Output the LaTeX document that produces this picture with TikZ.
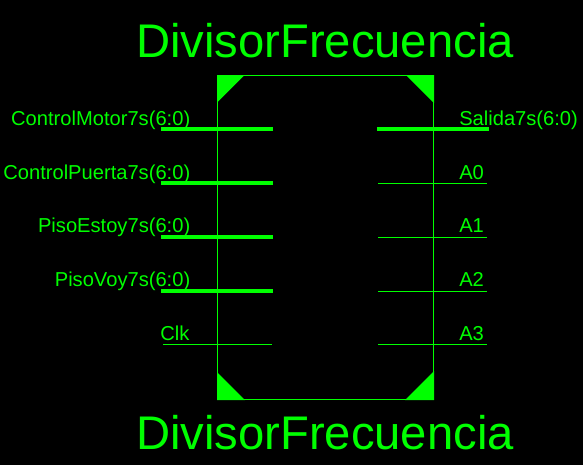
\documentclass[tikz,border=0pt]{standalone}
\usepackage{fontspec}
\setmainfont{Liberation Sans}
\definecolor{neon}{RGB}{0,255,0}
\tikzset{x=0.75pt,y=-0.75pt,
 lbl/.style={text=neon,font=\fontsize{15.1}{18}\selectfont,inner sep=0pt},
 ttl/.style={text=neon,font=\fontsize{35.4}{40}\selectfont,inner sep=0pt},
 thin wire/.style={draw=neon,line width=0.75pt},
 bus/.style={draw=neon,line width=3pt},
 corner/.style={fill=neon,draw=none}}
\begin{document}
\begin{tikzpicture}
\fill[black] (0,0) rectangle (583,465);
\useasboundingbox (0,0) rectangle (583,465);
\draw[thin wire] (217.5,75.5) rectangle (433.5,399.5);
\fill[corner] (217,75) -- (244.5,75) -- (217,102.5) -- cycle;
\fill[corner] (434,75) -- (406,75) -- (434,103) -- cycle;
\fill[corner] (217,400) -- (245,400) -- (217,372) -- cycle;
\fill[corner] (434,400) -- (405,400) -- (434,371) -- cycle;
\node[ttl,anchor=base] (t1) at (325,57) {DivisorFrecuencia};
\node[ttl,anchor=base] (t2) at (325,449) {DivisorFrecuencia};
\draw[bus] (161,129) -- (273,129);
\draw[bus] (161,183) -- (273,183);
\draw[bus] (161,237) -- (273,237);
\draw[bus] (161,291) -- (273,291);
\draw[thin wire] (163,344.5) -- (272,344.5);
\draw[bus] (377,129) -- (489,129);
\draw[thin wire] (378,183.5) -- (487,183.5);
\draw[thin wire] (378,237.5) -- (487,237.5);
\draw[thin wire] (378,291.5) -- (487,291.5);
\draw[thin wire] (378,344.5) -- (487,344.5);
\node[lbl,anchor=base east] (l1) at (190.5,125) {ControlMotor7s(6:0)};
\node[lbl,anchor=base east] (l2) at (190.5,179) {ControlPuerta7s(6:0)};
\node[lbl,anchor=base east] (l3) at (190.5,232) {PisoEstoy7s(6:0)};
\node[lbl,anchor=base east] (l4) at (190.5,286) {PisoVoy7s(6:0)};
\node[lbl,anchor=base west] (l5) at (160,340) {Clk};
\node[lbl,anchor=base west] (r1) at (459,125) {Salida7s(6:0)};
\node[lbl,anchor=base west] (r2) at (459,179) {A0};
\node[lbl,anchor=base west] (r3) at (459,232) {A1};
\node[lbl,anchor=base west] (r4) at (459,286) {A2};
\node[lbl,anchor=base west] (r5) at (459,340) {A3};
\end{tikzpicture}
\end{document}
